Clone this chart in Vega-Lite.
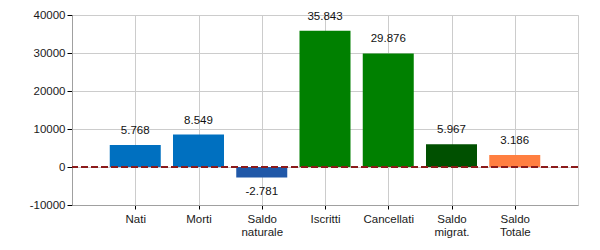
{
  "$schema": "https://vega.github.io/schema/vega-lite/v6.json",
  "autosize": "none",
  "width": 506,
  "height": 190,
  "padding": {"left": 72, "top": 15, "right": 22, "bottom": 45},
  "background": "white",
  "config": {
    "locale": {"number": {"decimal": ",", "thousands": ".", "grouping": [3], "currency": ["€", ""], "minus": "-"}},
    "view": {"stroke": "#cccccc"},
    "font": "Liberation Sans",
    "axis": {
      "labelFont": "Liberation Sans",
      "labelFontSize": 11.5,
      "labelColor": "#1a1a1a",
      "domainColor": "#a0a0a0",
      "tickColor": "#000000",
      "gridColor": "#cccccc",
      "gridOpacity": 1,
      "labelOverlap": false,
      "labelFlush": false
    }
  },
  "data": {
    "values": [
      {"cat": "Nati", "value": 5768, "color": "Nati"},
      {"cat": "Morti", "value": 8549, "color": "Morti"},
      {"cat": "Saldo naturale", "value": -2781, "color": "Saldo naturale"},
      {"cat": "Iscritti", "value": 35843, "color": "Iscritti"},
      {"cat": "Cancellati", "value": 29876, "color": "Cancellati"},
      {"cat": "Saldo migrat.", "value": 5967, "color": "Saldo migrat."},
      {"cat": "Saldo Totale", "value": 3186, "color": "Saldo Totale"}
    ]
  },
  "encoding": {
    "x": {
      "field": "cat",
      "type": "nominal",
      "sort": null,
      "scale": {"type": "point", "padding": 1},
      "axis": {
        "title": null,
        "labelAngle": 0,
        "labelExpr": "split(datum.label, ' ')",
        "labelLineHeight": 13,
        "labelPadding": 4,
        "tickSize": 4,
        "grid": true,
        "domain": true
      }
    },
    "y": {
      "field": "value",
      "type": "quantitative",
      "scale": {"domain": [-10000, 40000], "nice": false, "zero": false},
      "axis": {
        "title": null,
        "values": [-10000, 0, 10000, 20000, 30000, 40000],
        "format": "d",
        "tickSize": 5,
        "labelPadding": 2,
        "grid": true
      }
    }
  },
  "layer": [
    {
      "mark": {"type": "bar", "width": 51},
      "encoding": {
        "color": {
          "field": "color",
          "type": "nominal",
          "legend": null,
          "scale": {
            "domain": ["Nati", "Morti", "Saldo naturale", "Iscritti", "Cancellati", "Saldo migrat.", "Saldo Totale"],
            "range": ["#0070c0", "#0070c0", "#2058a8", "#008000", "#008000", "#005000", "#ff7f40"]
          }
        }
      }
    },
    {
      "mark": {"type": "rule", "color": "#8b1a1a", "strokeWidth": 2, "strokeDash": [7, 3]},
      "encoding": {
        "x": null,
        "y": {"datum": 0}
      }
    },
    {
      "transform": [{"filter": "datum.value >= 0"}],
      "mark": {"type": "text", "baseline": "middle", "dy": -14, "fontSize": 11.5, "color": "#111111"},
      "encoding": {
        "text": {"field": "value", "type": "quantitative", "format": ",d"}
      }
    },
    {
      "transform": [{"filter": "datum.value < 0"}],
      "mark": {"type": "text", "baseline": "middle", "dy": 14, "fontSize": 11.5, "color": "#111111"},
      "encoding": {
        "text": {"field": "value", "type": "quantitative", "format": ",d"}
      }
    }
  ]
}
